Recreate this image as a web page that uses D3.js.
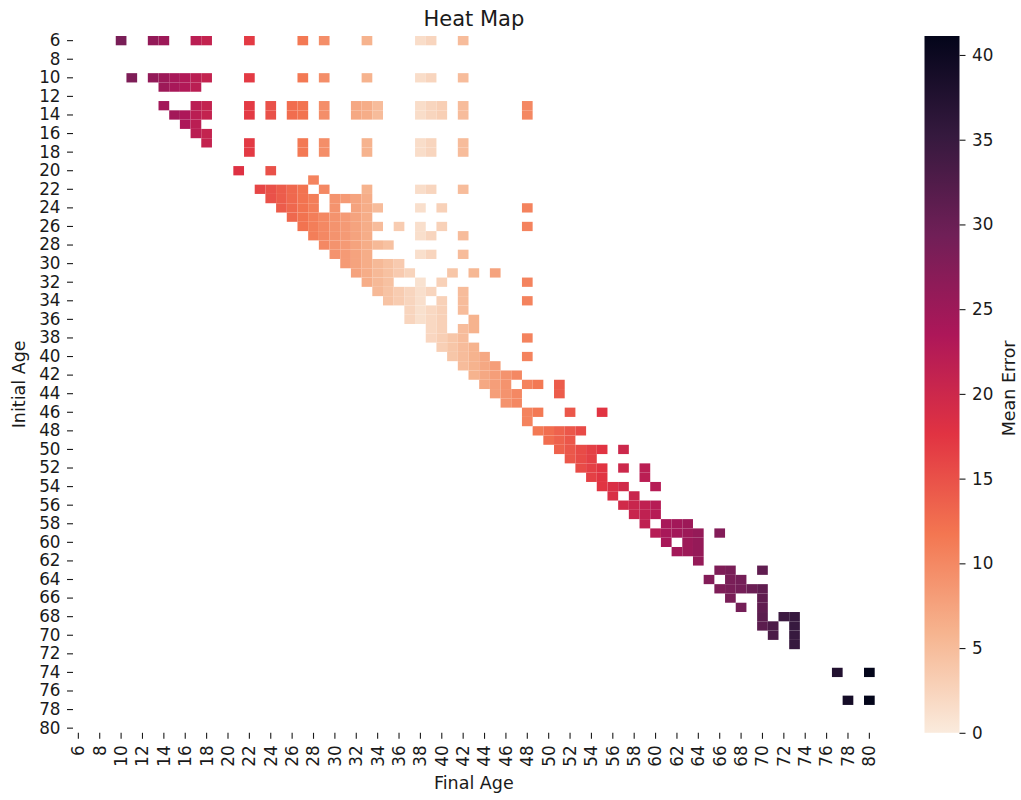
<!DOCTYPE html>
<html>
<head>
<meta charset="utf-8">
<script src="https://cdn.jsdelivr.net/npm/d3@7"></script>
<style>
  body { margin: 0; background: #fff; }
  svg text { font-family: "DejaVu Sans", sans-serif; fill: #1a1a1a; }
</style>
</head>
<body>
<div id="chart"></div>
<script>
// ages on both axes (one cell per year)
var initialAges = [6, 7, 8, 9, 10, 11, 12, 13, 14, 15, 16, 17, 18, 19, 20, 21, 22, 23, 24, 25,
  26, 27, 28, 29, 30, 31, 32, 33, 34, 35, 36, 37, 38, 39, 40, 41, 42, 43, 44, 45, 46, 47, 48, 49,
  50, 51, 52, 53, 54, 55, 56, 57, 58, 59, 60, 61, 62, 63, 64, 65, 66, 67, 68, 69, 70, 71, 72, 73,
  74, 75, 76, 77, 78, 79, 80];
var finalAges = [6, 7, 8, 9, 10, 11, 12, 13, 14, 15, 16, 17, 18, 19, 20, 21, 22, 23, 24, 25,
  26, 27, 28, 29, 30, 31, 32, 33, 34, 35, 36, 37, 38, 39, 40, 41, 42, 43, 44, 45, 46, 47, 48, 49,
  50, 51, 52, 53, 54, 55, 56, 57, 58, 59, 60, 61, 62, 63, 64, 65, 66, 67, 68, 69, 70, 71, 72, 73,
  74, 75, 76, 77, 78, 79, 80];
var ageTicks = [6, 8, 10, 12, 14, 16, 18, 20, 22, 24, 26, 28, 30, 32, 34, 36, 38, 40, 42, 44,
  46, 48, 50, 52, 54, 56, 58, 60, 62, 64, 66, 68, 70, 72, 74, 76, 78, 80];
var errorTicks = [0, 5, 10, 15, 20, 25, 30, 35, 40];
var errorMax = 41.12;

// seaborn "rocket", dark to light
var rocket = ["#03051a", "#35193e", "#701f57", "#ad1759", "#e13342", "#f37651", "#f6b48f", "#faebdd"];

// [initial age, final age, mean error]
var cells = [
  [6, 10, 28.5], [6, 13, 26], [6, 14, 25], [6, 17, 22], [6, 18, 21], [6, 22, 17], [6, 27, 11.5], [6, 29, 9.5], [6, 33, 6], [6, 38, 1.5], [6, 39, 2.3], [6, 42, 5],
  [10, 11, 28], [10, 13, 26], [10, 14, 25], [10, 15, 24], [10, 16, 23], [10, 17, 22], [10, 18, 21], [10, 22, 17], [10, 27, 11.5], [10, 29, 9.5], [10, 33, 6], [10, 38, 1.5], [10, 39, 2.3], [10, 42, 5],
  [11, 14, 25], [11, 15, 24], [11, 16, 23], [11, 17, 22],
  [13, 14, 24.5], [13, 17, 22], [13, 18, 21], [13, 22, 17], [13, 24, 15], [13, 26, 12.5], [13, 27, 12], [13, 29, 9.5], [13, 32, 7], [13, 33, 6.5], [13, 34, 5], [13, 38, 1.5], [13, 39, 2.3], [13, 40, 3], [13, 42, 5], [13, 48, 10],
  [14, 15, 24.5], [14, 16, 23.5], [14, 17, 22], [14, 18, 21], [14, 22, 17], [14, 24, 15], [14, 26, 12.5], [14, 27, 12], [14, 29, 9.5], [14, 32, 7], [14, 33, 6.5], [14, 34, 5], [14, 38, 1.5], [14, 39, 2.3], [14, 40, 3], [14, 42, 5], [14, 48, 10],
  [15, 16, 23.5], [15, 17, 22],
  [16, 17, 22], [16, 18, 21],
  [17, 18, 21], [17, 22, 17], [17, 27, 11.5], [17, 29, 9.5], [17, 33, 6], [17, 38, 1.5], [17, 39, 2.3], [17, 42, 5],
  [18, 22, 17], [18, 27, 11.5], [18, 29, 9.5], [18, 33, 6], [18, 38, 1.5], [18, 39, 2.3], [18, 42, 5],
  [20, 21, 18], [20, 24, 15],
  [21, 28, 10.5],
  [22, 23, 16], [22, 24, 15], [22, 25, 14], [22, 26, 13], [22, 27, 12], [22, 29, 10], [22, 33, 6], [22, 38, 1.5], [22, 39, 2.3], [22, 42, 5],
  [23, 24, 15], [23, 25, 14], [23, 26, 13], [23, 27, 12], [23, 28, 11], [23, 30, 9], [23, 31, 8.3], [23, 32, 7.5], [23, 33, 6.5],
  [24, 25, 14], [24, 26, 13], [24, 27, 12], [24, 28, 11], [24, 30, 9], [24, 32, 7.5], [24, 33, 6.5], [24, 34, 5], [24, 38, 1.3], [24, 40, 2.8], [24, 48, 10.5],
  [25, 26, 13], [25, 27, 12], [25, 28, 11], [25, 29, 10], [25, 30, 9], [25, 31, 8.3], [25, 32, 7.5], [25, 33, 6.5],
  [26, 27, 12], [26, 28, 11], [26, 29, 10], [26, 30, 9], [26, 31, 8.3], [26, 32, 7.5], [26, 33, 6.5], [26, 34, 5], [26, 36, 3.3], [26, 38, 1.3], [26, 40, 2.8], [26, 48, 10.5],
  [27, 28, 11], [27, 29, 10], [27, 30, 9], [27, 31, 8.3], [27, 32, 7.5], [27, 33, 6.5], [27, 38, 1.3], [27, 39, 2.3], [27, 42, 5],
  [28, 29, 10], [28, 30, 9], [28, 31, 8.3], [28, 32, 7.5], [28, 33, 6.5], [28, 34, 5.3], [28, 35, 4.5],
  [29, 30, 9], [29, 31, 8.3], [29, 32, 7.5], [29, 33, 6.5], [29, 38, 1.3], [29, 39, 2.3], [29, 42, 5],
  [30, 31, 8.3], [30, 32, 7.5], [30, 33, 6.5], [30, 34, 5.3], [30, 35, 4.5], [30, 36, 3.5],
  [31, 32, 7.5], [31, 33, 6.5], [31, 34, 5.3], [31, 35, 4.5], [31, 36, 3.5], [31, 37, 2.5], [31, 41, 4], [31, 43, 5.5], [31, 45, 7.5],
  [32, 33, 6.5], [32, 34, 5.3], [32, 35, 4.5], [32, 38, 1], [32, 40, 2.8], [32, 48, 10.5],
  [33, 34, 5.3], [33, 35, 4.3], [33, 36, 3.3], [33, 37, 2.3], [33, 38, 1.3], [33, 39, 2.3], [33, 42, 5],
  [34, 35, 4.3], [34, 36, 3.3], [34, 37, 2.3], [34, 38, 1.3], [34, 40, 2.8], [34, 42, 5], [34, 48, 10.5],
  [35, 37, 2.3], [35, 38, 1.2], [35, 39, 2], [35, 40, 2.8], [35, 42, 5],
  [36, 37, 2.3], [36, 38, 1.2], [36, 39, 2], [36, 40, 2.8], [36, 43, 6],
  [37, 39, 2], [37, 40, 2.8], [37, 42, 5], [37, 43, 6],
  [38, 39, 2.2], [38, 40, 3], [38, 41, 4], [38, 42, 5], [38, 48, 10.5],
  [39, 40, 3], [39, 41, 4], [39, 42, 5], [39, 43, 6],
  [40, 41, 4], [40, 42, 5], [40, 43, 6], [40, 44, 7], [40, 48, 10.5],
  [41, 42, 5], [41, 43, 6], [41, 44, 7], [41, 45, 8],
  [42, 43, 6], [42, 44, 7], [42, 45, 8], [42, 46, 9], [42, 47, 10],
  [43, 44, 7], [43, 45, 8], [43, 46, 9], [43, 48, 10.5], [43, 49, 11.5], [43, 51, 14],
  [44, 45, 8], [44, 46, 9], [44, 47, 10], [44, 51, 14],
  [45, 46, 9], [45, 47, 10],
  [46, 48, 10.5], [46, 49, 11.5], [46, 52, 14.5], [46, 55, 17.5],
  [47, 48, 10.5],
  [48, 49, 11.5], [48, 50, 12.5], [48, 51, 13.5], [48, 52, 14.5], [48, 53, 15.5],
  [49, 50, 12.5], [49, 51, 13.5], [49, 52, 14.5],
  [50, 51, 13.5], [50, 52, 14.5], [50, 53, 15.5], [50, 54, 16.5], [50, 55, 17.5], [50, 57, 20],
  [51, 52, 14.5], [51, 53, 15.5], [51, 54, 16.5],
  [52, 53, 15.5], [52, 54, 16.5], [52, 55, 17.5], [52, 57, 20], [52, 59, 22],
  [53, 54, 16.5], [53, 55, 17.5], [53, 59, 22],
  [54, 55, 17.5], [54, 56, 18.5], [54, 57, 19.5], [54, 60, 22.5],
  [55, 56, 18.5], [55, 58, 20.5],
  [56, 57, 19.5], [56, 58, 20.5], [56, 59, 21.5], [56, 60, 22.5],
  [57, 58, 20.5], [57, 59, 21.5], [57, 60, 22.5],
  [58, 59, 21.5], [58, 61, 24], [58, 62, 24.5], [58, 63, 25],
  [59, 60, 22.5], [59, 61, 24], [59, 62, 24.5], [59, 63, 25], [59, 64, 25.8], [59, 66, 27.5],
  [60, 61, 24], [60, 63, 25], [60, 64, 25.8],
  [61, 62, 24.5], [61, 63, 25], [61, 64, 25.8],
  [62, 64, 25.8],
  [63, 66, 28], [63, 67, 28.5], [63, 70, 31],
  [64, 65, 27.5], [64, 67, 28.5], [64, 68, 29],
  [65, 66, 28], [65, 67, 28.5], [65, 68, 29], [65, 69, 30], [65, 70, 31],
  [66, 67, 28.5], [66, 70, 31],
  [67, 68, 29], [67, 70, 31],
  [68, 70, 31.5], [68, 72, 34.5], [68, 73, 35],
  [69, 70, 31.5], [69, 71, 33], [69, 73, 35],
  [70, 71, 33], [70, 73, 35],
  [71, 73, 35],
  [74, 77, 37.5], [74, 80, 41.1],
  [77, 78, 39], [77, 80, 41.1]
];

var width = 1021, height = 800;
var plotLeft = 73, plotRight = 874.7, plotTop = 36, plotBottom = 732.8;

var svg = d3.select("#chart")
  .append("svg")
  .attr("width", width)
  .attr("height", height);

var x = d3.scaleBand().domain(finalAges).range([plotLeft, plotRight]);
var y = d3.scaleBand().domain(initialAges).range([plotTop, plotBottom]);

// rocket_r: light at 0, dark at the max
var color = d3.scaleLinear()
  .domain(rocket.map(function(c, i) { return errorMax * i / (rocket.length - 1); }))
  .range(rocket.slice().reverse())
  .interpolate(d3.interpolateRgb);

svg.append("g")
  .selectAll("rect")
  .data(cells)
  .enter()
    .append("rect")
    .attr("x", function(d) { return x(d[1]); })
    .attr("y", function(d) { return y(d[0]); })
    .attr("width", x.bandwidth())
    .attr("height", y.bandwidth())
    .attr("fill", function(d) { return color(d[2]); });

function styleAxis(g) {
  g.attr("font-family", "DejaVu Sans, sans-serif").attr("font-size", 16.8).attr("color", "#1a1a1a");
  g.select(".domain").remove();
  g.selectAll(".tick line").attr("stroke-width", 1.1);
}

var xAxis = svg.append("g")
  .attr("transform", "translate(0," + plotBottom + ")")
  .call(d3.axisBottom(x).tickValues(ageTicks).tickSize(6).tickPadding(6));
styleAxis(xAxis);
xAxis.selectAll(".tick text")
  .attr("transform", "rotate(-90)")
  .attr("x", -12.5)
  .attr("y", 0)
  .attr("dy", "0.35em")
  .style("text-anchor", "end");

var yAxis = svg.append("g")
  .attr("transform", "translate(" + plotLeft + ",0)")
  .call(d3.axisLeft(y).tickValues(ageTicks).tickSize(6).tickPadding(6.5));
styleAxis(yAxis);

// colour bar
var cbX = 924.5, cbW = 35;
var cbScale = d3.scaleLinear().domain([0, errorMax]).range([plotBottom, plotTop]);

var grad = svg.append("defs")
  .append("linearGradient")
  .attr("id", "cbGrad")
  .attr("x1", 0).attr("y1", 1).attr("x2", 0).attr("y2", 0);
grad.selectAll("stop")
  .data(color.domain())
  .enter()
    .append("stop")
    .attr("offset", function(d) { return d / errorMax; })
    .attr("stop-color", function(d) { return color(d); });

svg.append("rect")
  .attr("x", cbX)
  .attr("y", plotTop)
  .attr("width", cbW)
  .attr("height", plotBottom - plotTop)
  .attr("fill", "url(#cbGrad)");

var cbAxis = svg.append("g")
  .attr("transform", "translate(" + (cbX + cbW) + ",0)")
  .call(d3.axisRight(cbScale).tickValues(errorTicks).tickSize(6).tickPadding(6.5));
styleAxis(cbAxis);

// titles
svg.append("text")
  .attr("x", (plotLeft + plotRight) / 2)
  .attr("y", 26)
  .attr("text-anchor", "middle")
  .attr("font-size", 21)
  .text("Heat Map");

svg.append("text")
  .attr("x", (plotLeft + plotRight) / 2)
  .attr("y", 789)
  .attr("text-anchor", "middle")
  .attr("font-size", 17.5)
  .text("Final Age");

svg.append("text")
  .attr("transform", "translate(24.5," + (plotTop + plotBottom) / 2 + ") rotate(-90)")
  .attr("text-anchor", "middle")
  .attr("font-size", 17.5)
  .text("Initial Age");

svg.append("text")
  .attr("transform", "translate(1015," + ((plotTop + plotBottom) / 2 + 4) + ") rotate(-90)")
  .attr("text-anchor", "middle")
  .attr("font-size", 17.5)
  .text("Mean Error");
</script>
</body>
</html>
